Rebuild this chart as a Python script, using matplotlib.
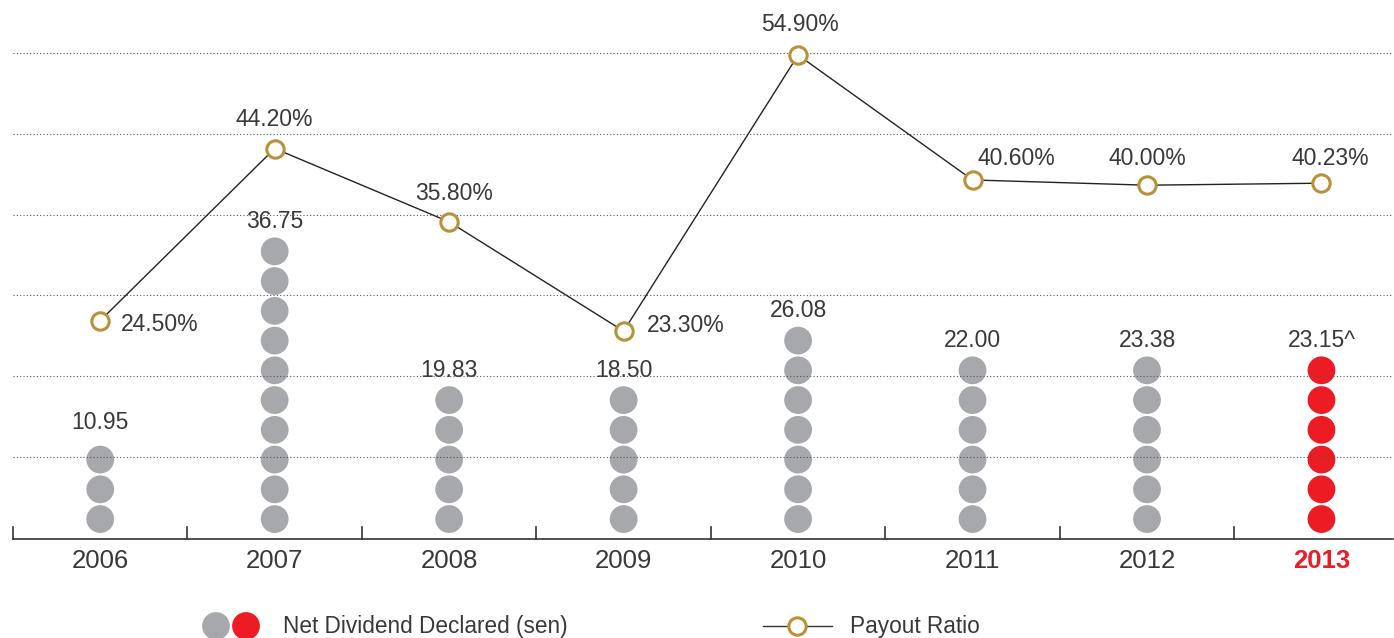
import numpy as np
import matplotlib
matplotlib.use("Agg")
import matplotlib.pyplot as plt

years = ["2006", "2007", "2008", "2009", "2010", "2011", "2012", "2013"]
dividend = [10.95, 36.75, 19.83, 18.50, 26.08, 22.00, 23.38, 23.15]
dividend_labels = ["10.95", "36.75", "19.83", "18.50", "26.08", "22.00", "23.38", "23.15^"]
dot_counts = [3, 10, 5, 5, 7, 6, 6, 6]
payout = [24.50, 44.20, 35.80, 23.30, 54.90, 40.60, 40.00, 40.23]

GREY = "#a7a8ab"
RED = "#ed1c24"
GOLD = "#b8913a"
TEXT = "#383838"

plt.rcParams["font.family"] = ["Liberation Sans", "DejaVu Sans"]

W, H = 1394, 638
fig = plt.figure(figsize=(W / 100, H / 100), dpi=100)
# axes spans pixel x 13..1393, y 0..539 (from top)
ax = fig.add_axes([13 / W, (H - 539) / H, 1380 / W, 539 / H])
ax2 = ax.twinx()

x = np.arange(len(years))
ax.set_xlim(-0.5, 7.41)

# percent axis for payout ratio
ax.set_ylim(-0.5, 61.2)
# dot axis (one unit per dot)
ax2.set_ylim(-0.67, 17.45)

for a in (ax, ax2):
    a.set_yticks([])
    for s in ("left", "right", "top"):
        a.spines[s].set_visible(False)
ax2.spines["bottom"].set_visible(False)
ax.spines["bottom"].set_color("#333333")
ax.spines["bottom"].set_linewidth(1.2)

# dotted gridlines
for f in [0.152, 0.302, 0.452, 0.602, 0.752, 0.902]:
    ax.plot([0, 1], [f, f], transform=ax.transAxes, ls=(0, (1, 2)),
            color="#555555", lw=0.8, zorder=0)

# year labels, ticks at category boundaries (upwards)
ax.set_xticks(x)
ax.tick_params(axis="x", length=0, pad=7)
ax.set_xticklabels(years, fontsize=18.5, color=TEXT)
lab = ax.get_xticklabels()[-1]
lab.set_color(RED)
lab.set_fontweight("bold")
for b in np.arange(-0.5, len(years) - 1, 1.0):
    ax.plot([b, b], [0, 0.022], transform=ax.get_xaxis_transform(),
            color="#333333", lw=1.2, clip_on=False)

# dot stacks
for i, n in enumerate(dot_counts):
    col = RED if i == len(years) - 1 else GREY
    ax2.scatter(np.full(n, x[i]), np.arange(n), s=400, color=col,
                edgecolors="none", zorder=2)
    off = 1.25 if i == 0 else 1.0
    ax2.text(x[i], n - 1 + off, dividend_labels[i], ha="center", va="center",
             fontsize=16.5, color=TEXT, zorder=3)

# payout line
ax2.set_zorder(1)
ax.set_zorder(2)
ax.patch.set_visible(False)
ax.plot(x, payout, color="#222222", lw=1, zorder=3)
ax.plot(x, payout, ls="none", marker="o", ms=12.5, mfc="white", mec=GOLD,
        mew=2.2, zorder=4)

# payout labels (dx in categories, dy in percent)
offsets = [(0.34, -0.4), (0, 3.3), (0.03, 3.2), (0.355, 0.6), (0.01, 3.5),
           (0.25, 2.5), (0, 3.0), (0.05, 2.8)]
for i, p in enumerate(payout):
    dx, dy = offsets[i]
    ax.text(x[i] + dx, p + dy, f"{p:.2f}%", ha="center", va="center",
            fontsize=16.5, color=TEXT)

# legend
leg_ax = fig.add_axes([0, 0, 1, 1], zorder=5)
leg_ax.set_xlim(0, W)
leg_ax.set_ylim(H, 0)
leg_ax.axis("off")
leg_ax.scatter([216, 246], [626, 626], s=400, color=[GREY, RED], edgecolors="none")
leg_ax.text(283, 626, "Net Dividend Declared (sen)", va="center", ha="left",
            fontsize=16.3, color=TEXT)
leg_ax.plot([763, 832], [626, 626], color="#333333", lw=1)
leg_ax.plot([797], [626], ls="none", marker="o", ms=12.5, mfc="white", mec=GOLD, mew=2.2)
leg_ax.text(850, 626, "Payout Ratio", va="center", ha="left", fontsize=16.3, color=TEXT)

fig.savefig("out.png", dpi=100)
